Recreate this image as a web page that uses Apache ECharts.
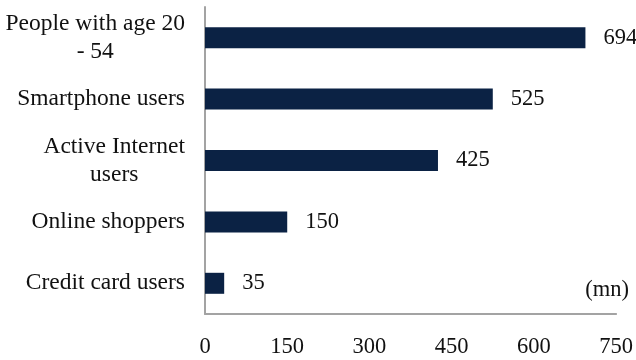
<!DOCTYPE html>
<html>
<head>
<meta charset="utf-8">
<script src="https://cdn.jsdelivr.net/npm/echarts@6/dist/echarts.min.js"></script>
<style>
  html, body { margin: 0; padding: 0; background: #ffffff; }
  #chart { width: 636px; height: 360px; }
</style>
</head>
<body>
<div id="chart"></div>
<script>
// Audience funnel, in millions (top to bottom as listed)
const categories = [
  'People with age 20\n- 54',
  'Smartphone users',
  'Active Internet\nusers',
  'Online shoppers',
  'Credit card users'
];
const values = [694, 525, 425, 150, 35];
const xTicks = [0, 150, 300, 450, 600, 750];
const unitLabel = '(mn)';

const FONT = '"Liberation Serif", "DejaVu Serif", serif';
const BAR = '#0b2244';
const AXIS = '#a3a3a3';
const INK = '#111111';

const chart = echarts.init(document.getElementById('chart'), null, { renderer: 'canvas' });

chart.setOption({
  animation: false,
  backgroundColor: '#ffffff',
  grid: { left: 205, right: 19, top: 7, bottom: 46, containLabel: false },
  xAxis: {
    type: 'value',
    min: xTicks[0],
    max: xTicks[xTicks.length - 1],
    interval: xTicks[1] - xTicks[0],
    axisLine: { show: true, lineStyle: { color: AXIS, width: 2 } },
    axisTick: { show: false },
    splitLine: { show: false },
    axisLabel: {
      margin: 22,
      fontFamily: FONT,
      fontSize: 22.5,
      color: INK
    }
  },
  yAxis: {
    type: 'category',
    inverse: true,
    data: categories,
    axisLine: { show: true, lineStyle: { color: AXIS, width: 2 } },
    axisTick: { show: false },
    splitLine: { show: false },
    axisLabel: {
      margin: 20,
      align: 'right',
      formatter: function (v) {
        return v.split('\n').map(function (s) { return '{c|' + s + '}'; }).join('\n');
      },
      rich: {
        c: {
          align: 'center',
          fontFamily: FONT,
          fontSize: 23.5,
          lineHeight: 28,
          color: INK
        }
      }
    }
  },
  series: [{
    type: 'bar',
    data: values,
    barWidth: 21,
    itemStyle: { color: BAR },
    label: {
      show: true,
      position: 'right',
      distance: 18,
      fontFamily: FONT,
      fontSize: 22.5,
      color: INK
    }
  }],
  graphic: [{
    type: 'text',
    right: 7,
    top: 279,
    style: {
      text: unitLabel,
      fontFamily: FONT,
      fontSize: 22.5,
      fill: INK
    }
  }]
});
</script>
</body>
</html>
